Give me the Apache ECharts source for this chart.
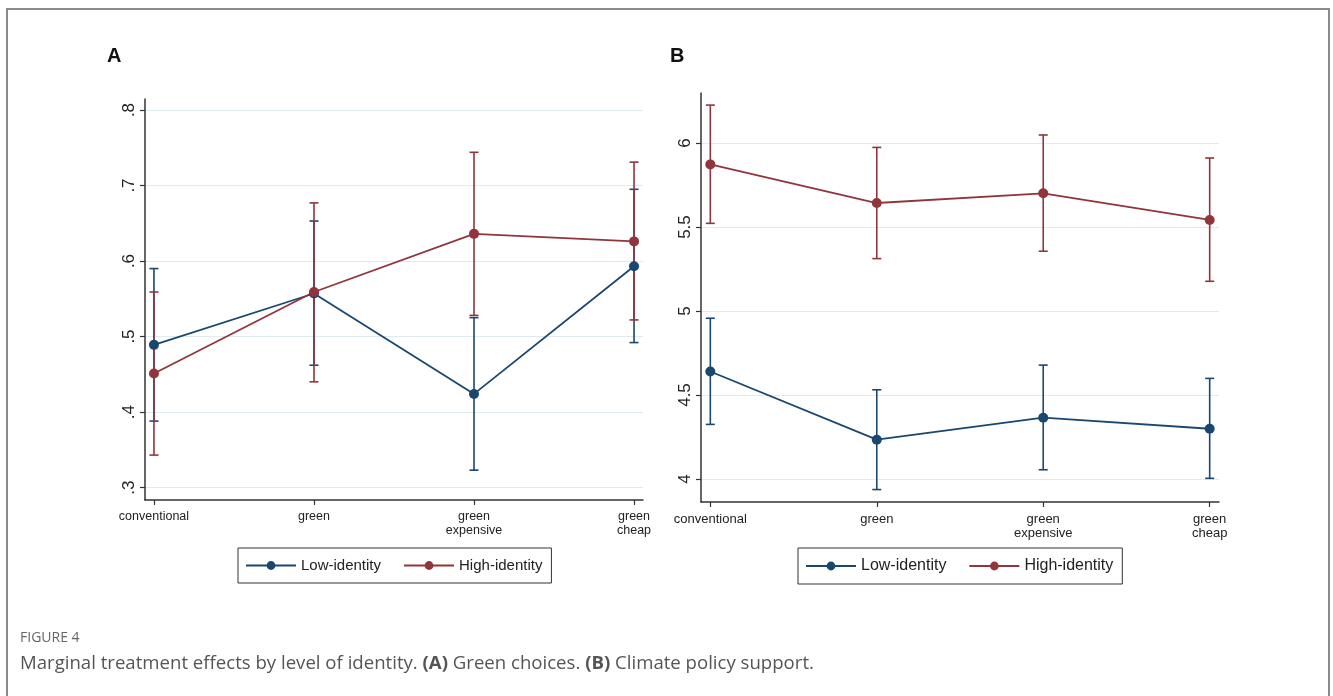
<!DOCTYPE html>
<html><head><meta charset="utf-8">
<script src="https://cdn.jsdelivr.net/npm/echarts@6/dist/echarts.min.js"></script>
<style>html,body{margin:0;padding:0;background:#fff}#c{width:1333px;height:696px}</style>
</head><body><div id="c"></div>
<script>
// ---- data ----
const categories = ['conventional', 'green', 'green\nexpensive', 'green\ncheap'];
const catPos = [0, 1, 2, 3];
const seriesNames = ['Low-identity', 'High-identity'];

// Panel A: green choices
const A_low    = [0.489, 0.557, 0.424, 0.593];
const A_low_lo = [0.388, 0.462, 0.323, 0.492];
const A_low_hi = [0.590, 0.653, 0.525, 0.695];
const A_high    = [0.451, 0.559, 0.636, 0.626];
const A_high_lo = [0.343, 0.440, 0.528, 0.522];
const A_high_hi = [0.559, 0.677, 0.744, 0.731];
const A_yticks = [0.3, 0.4, 0.5, 0.6, 0.7, 0.8];

// Panel B: climate policy support
const B_low    = [4.640, 4.234, 4.365, 4.299];
const B_low_lo = [4.325, 3.937, 4.055, 4.004];
const B_low_hi = [4.957, 4.531, 4.678, 4.599];
const B_high    = [5.873, 5.643, 5.701, 5.542];
const B_high_lo = [5.522, 5.312, 5.356, 5.177];
const B_high_hi = [6.226, 5.974, 6.048, 5.911];
const B_yticks = [4, 4.5, 5, 5.5, 6];

// ---- chart ----
const BLUE = '#1a476f', RED = '#90353b';
const SANS = '"Liberation Sans",Arial,sans-serif';
const AXIS = '#333';

function errSeries(name, xi, lo, hi, color) {
  return {
    type: 'custom', name: name, xAxisIndex: xi, yAxisIndex: xi, silent: true, z: 2,
    data: lo.map((l, i) => [catPos[i], l, hi[i]]),
    renderItem: function (params, api) {
      const x = api.value(0);
      const pLo = api.coord([x, api.value(1)]);
      const pHi = api.coord([x, api.value(2)]);
      const w = 4.5;
      const style = { stroke: color, lineWidth: 1.6 };
      return { type: 'group', children: [
        { type: 'line', shape: { x1: pLo[0], y1: pLo[1], x2: pHi[0], y2: pHi[1] }, style: style },
        { type: 'line', shape: { x1: pHi[0] - w, y1: pHi[1], x2: pHi[0] + w, y2: pHi[1] }, style: style },
        { type: 'line', shape: { x1: pLo[0] - w, y1: pLo[1], x2: pLo[0] + w, y2: pLo[1] }, style: style }
      ] };
    }
  };
}
function lineSeries(name, xi, vals, color) {
  return {
    type: 'line', name: name, xAxisIndex: xi, yAxisIndex: xi, z: 3,
    data: vals.map((v, i) => [catPos[i], v]),
    symbol: 'circle', symbolSize: 10,
    lineStyle: { color: color, width: 1.8 },
    itemStyle: { color: color },
    emphasis: { disabled: true }, animation: false
  };
}
function xAxis(gi, fs) {
  return {
    type: 'value', gridIndex: gi, min: -0.056, max: 3.056,
    axisLine: { show: true, onZero: false, lineStyle: { color: AXIS, width: 1.5 } },
    axisTick: { show: true, customValues: catPos, length: 5, lineStyle: { color: AXIS, width: 1.2 } },
    axisLabel: { customValues: catPos, formatter: v => categories[Math.round(v)],
      fontFamily: SANS, fontSize: fs, color: '#222', lineHeight: 14, margin: 10 },
    splitLine: { show: false }
  };
}
function yAxis(gi, mn, mx, ticks, fmt) {
  return {
    type: 'value', gridIndex: gi, min: mn, max: mx,
    axisLine: { show: true, onZero: false, lineStyle: { color: AXIS, width: 1.5 } },
    axisTick: { show: true, customValues: ticks, length: 5, lineStyle: { color: AXIS, width: 1.2 } },
    axisLabel: { customValues: ticks, rotate: 90, formatter: fmt,
      fontFamily: SANS, fontSize: 17, color: '#222', margin: 7 },
    splitLine: { show: true, lineStyle: { color: '#e0ebef', width: 1.2 } }
  };
}
function legend(left, top, fs) {
  return {
    left: left, top: top, orient: 'horizontal',
    data: seriesNames,
    itemWidth: 50, itemHeight: 11, itemGap: 22,
    padding: [10, 9, 10, 7],
    borderColor: '#333', borderWidth: 1,
    textStyle: { fontFamily: SANS, fontSize: fs, color: '#222' },
    selectedMode: false
  };
}

const option = {
  backgroundColor: '#fff',
  animation: false,
  title: [
    { text: 'A', left: 102, top: 41, textStyle: { fontFamily: SANS, fontWeight: 'bold', fontSize: 20, color: '#111' } },
    { text: 'B', left: 665, top: 41, textStyle: { fontFamily: SANS, fontWeight: 'bold', fontSize: 20, color: '#111' } }
  ],
  grid: [
    { left: 145, top: 99, width: 498, height: 401 },
    { left: 701, top: 93, width: 518, height: 409 }
  ],
  xAxis: [xAxis(0, 12.5), xAxis(1, 13)],
  yAxis: [
    yAxis(0, 0.2835, 0.8146, A_yticks, v => v.toFixed(1).replace(/^0/, '')),
    yAxis(1, 3.863, 6.298, B_yticks, v => String(v))
  ],
  legend: [legend(238, 548, 15), legend(798, 548, 16)],
  series: [
    errSeries('Low-identity CI', 0, A_low_lo, A_low_hi, BLUE),
    errSeries('High-identity CI', 0, A_high_lo, A_high_hi, RED),
    lineSeries('Low-identity', 0, A_low, BLUE),
    lineSeries('High-identity', 0, A_high, RED),
    errSeries('Low-identity CI', 1, B_low_lo, B_low_hi, BLUE),
    errSeries('High-identity CI', 1, B_high_lo, B_high_hi, RED),
    lineSeries('Low-identity', 1, B_low, BLUE),
    lineSeries('High-identity', 1, B_high, RED)
  ],
  graphic: [
    { type: 'rect', silent: true, shape: { x: 7, y: 9, width: 1322, height: 720 },
      style: { fill: 'none', stroke: '#8a8a8a', lineWidth: 2 } },
    { type: 'text', left: 20, top: 631, silent: true,
      style: { text: 'FIGURE 4', fill: '#666', fontSize: 14, fontFamily: '"Open Sans",sans-serif' } },
    { type: 'text', left: 20, top: 654, silent: true,
      style: { text: 'Marginal treatment effects by level of identity. {b|(A)} Green choices. {b|(B)} Climate policy support.',
        fill: '#555', fontSize: 18.6, fontFamily: '"Open Sans",sans-serif',
        rich: { b: { fontWeight: 'bold', fill: '#555', fontSize: 18.6, fontFamily: '"Open Sans",sans-serif' } } } }
  ]
};
const chart = echarts.init(document.getElementById('c'));
chart.setOption(option);
</script>
</body></html>
